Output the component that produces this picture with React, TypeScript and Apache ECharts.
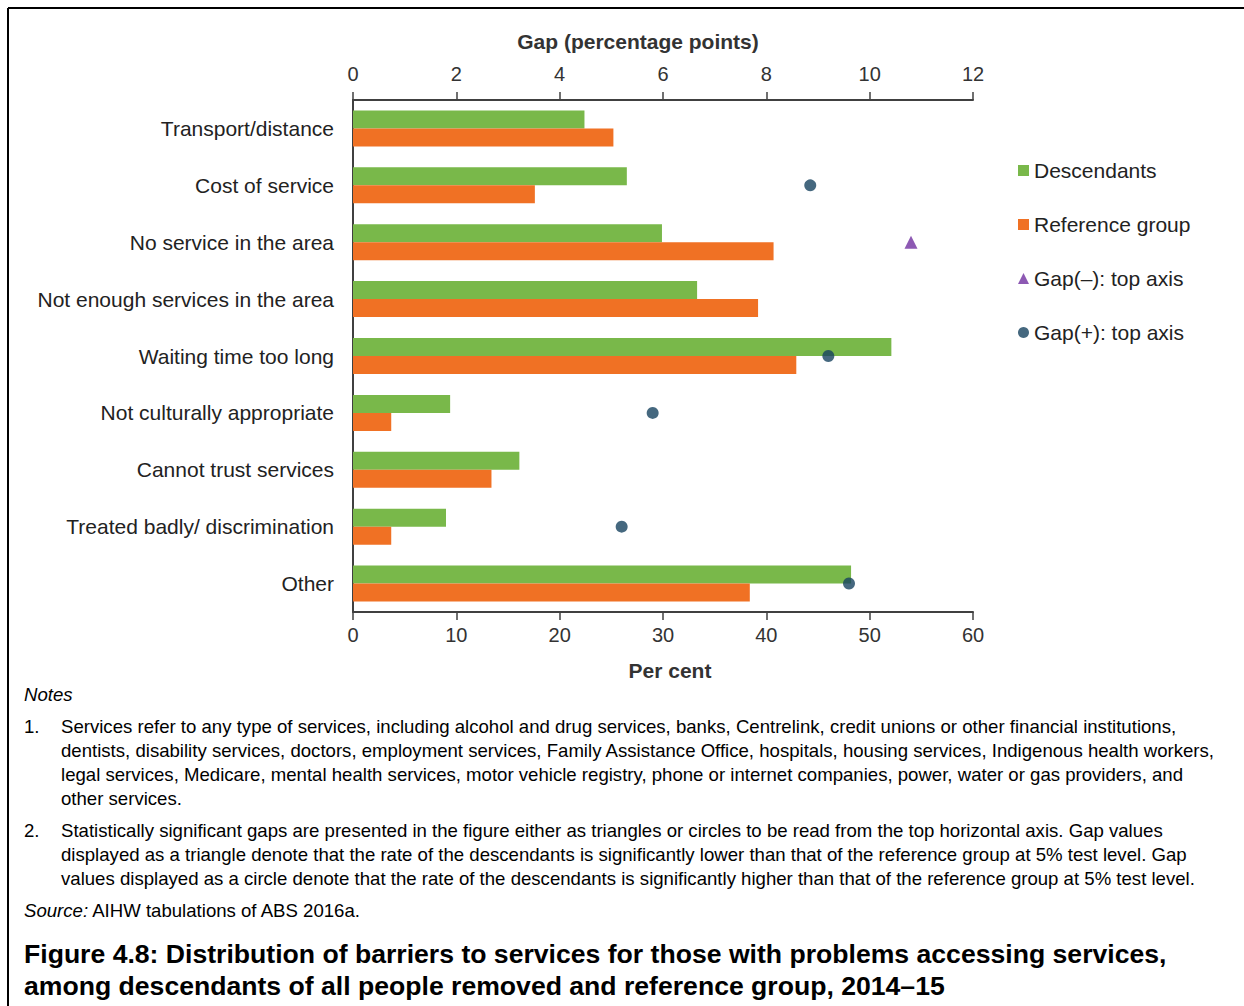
import React, { useEffect, useRef } from "react";
import * as echarts from "echarts";

const categories = [
  "Transport/distance",
  "Cost of service",
  "No service in the area",
  "Not enough services in the area",
  "Waiting time too long",
  "Not culturally appropriate",
  "Cannot trust services",
  "Treated badly/ discrimination",
  "Other",
];
const descendants = [22.4, 26.5, 29.9, 33.3, 52.1, 9.4, 16.1, 9.0, 48.2];
const referenceGroup = [25.2, 17.6, 40.7, 39.2, 42.9, 3.7, 13.4, 3.7, 38.4];
const gapNegative: (number | null)[] = [null, null, 10.8, null, null, null, null, null, null];
const gapPositive: (number | null)[] = [null, 8.85, null, null, 9.2, 5.8, null, 5.2, 9.6];
const bottomTicks = [0, 60, 10];
const topTicks = [0, 12, 2];
const bottomAxisTitle = "Per cent";
const topAxisTitle = "Gap (percentage points)";

const notes1 = [
  "Services refer to any type of services, including alcohol and drug services, banks, Centrelink, credit unions or other financial institutions,",
  "dentists, disability services, doctors, employment services, Family Assistance Office, hospitals, housing services, Indigenous health workers,",
  "legal services, Medicare, mental health services, motor vehicle registry, phone or internet companies, power, water or gas providers, and",
  "other services.",
];
const notes2 = [
  "Statistically significant gaps are presented in the figure either as triangles or circles to be read from the top horizontal axis. Gap values",
  "displayed as a triangle denote that the rate of the descendants is significantly lower than that of the reference group at 5% test level. Gap",
  "values displayed as a circle denote that the rate of the descendants is significantly higher than that of the reference group at 5% test level.",
];
const titleLines = [
  "Figure 4.8: Distribution of barriers to services for those with problems accessing services,",
  "among descendants of all people removed and reference group, 2014\u201315",
];

const SANS = "'Liberation Sans', Arial, sans-serif";

export default function App() {
  const ref = useRef<HTMLDivElement>(null);
  useEffect(() => {
    if (!ref.current) return;
    const chart = echarts.init(ref.current, undefined, { renderer: "svg" });
    const toPoints = (arr: (number | null)[]) =>
      arr.map((v, i) => (v == null ? ["-", i] : [v, i]));

    const noteStyle = { fontFamily: SANS, fontSize: 18.6, fill: "#000" };
    const graphic: any[] = [
      { type: "line", shape: { x1: 8, y1: 8, x2: 1244, y2: 8 }, style: { stroke: "#000", lineWidth: 2 } },
      { type: "line", shape: { x1: 8, y1: 8, x2: 8, y2: 1006 }, style: { stroke: "#000", lineWidth: 2 } },
      {
        type: "text", x: 638, y: 41,
        style: { text: topAxisTitle, fontFamily: SANS, fontSize: 21, fontWeight: "bold", fill: "#333", textAlign: "center", textVerticalAlign: "middle" },
      },
      {
        type: "text", x: 670, y: 670,
        style: { text: bottomAxisTitle, fontFamily: SANS, fontSize: 21, fontWeight: "bold", fill: "#333", textAlign: "center", textVerticalAlign: "middle" },
      },
      { type: "text", x: 24, y: 694, style: { ...noteStyle, text: "Notes", fontStyle: "italic", textVerticalAlign: "middle" } },
      { type: "text", x: 24, y: 726, style: { ...noteStyle, text: "1.", textVerticalAlign: "middle" } },
      { type: "text", x: 24, y: 830, style: { ...noteStyle, text: "2.", textVerticalAlign: "middle" } },
    ];
    notes1.forEach((t, i) =>
      graphic.push({ type: "text", x: 61, y: 726 + i * 24, style: { ...noteStyle, text: t, textVerticalAlign: "middle" } })
    );
    notes2.forEach((t, i) =>
      graphic.push({ type: "text", x: 61, y: 830 + i * 24, style: { ...noteStyle, text: t, textVerticalAlign: "middle" } })
    );
    graphic.push({
      type: "text",
      x: 24,
      y: 910,
      style: {
        ...noteStyle,
        text: "{i|Source:} AIHW tabulations of ABS 2016a.",
        textVerticalAlign: "middle",
        rich: { i: { fontStyle: "italic", fontFamily: SANS, fontSize: 18.6, fill: "#000" } },
      },
    });
    titleLines.forEach((t, i) =>
      graphic.push({
        type: "text",
        x: 24,
        y: 954 + i * 32,
        style: { text: t, fontFamily: SANS, fontSize: 26.6, fontWeight: "bold", fill: "#000", textVerticalAlign: "middle" },
      })
    );

    const axisCommon = {
      type: "value" as const,
      axisLine: { show: true, lineStyle: { color: "#404040", width: 2 } },
      axisTick: { show: true, inside: false, length: 8, lineStyle: { color: "#404040", width: 1.5 } },
      splitLine: { show: false },
      axisLabel: { fontFamily: SANS, fontSize: 20, color: "#333" },
    };

    chart.setOption({
      animation: false,
      backgroundColor: "#fff",
      grid: { left: 353, top: 100, width: 620, height: 512, containLabel: false },
      xAxis: [
        {
          ...axisCommon,
          position: "bottom",
          min: bottomTicks[0],
          max: bottomTicks[1],
          interval: bottomTicks[2],
          axisLabel: { ...axisCommon.axisLabel, margin: 13 },
        },
        {
          ...axisCommon,
          position: "top",
          min: topTicks[0],
          max: topTicks[1],
          interval: topTicks[2],
          axisLabel: { ...axisCommon.axisLabel, margin: 16 },
        },
      ],
      yAxis: {
        type: "category",
        inverse: true,
        data: categories,
        axisLine: { show: true, lineStyle: { color: "#404040", width: 2 } },
        axisTick: { show: false },
        axisLabel: { fontFamily: SANS, fontSize: 21, color: "#222", margin: 19 },
      },
      legend: {
        orient: "vertical",
        left: 1013,
        top: 155,
        itemGap: 33,
        itemWidth: 11,
        itemHeight: 11,
        textStyle: { fontFamily: SANS, fontSize: 21, color: "#222" },
        data: [
          { name: "Descendants", icon: "rect" },
          { name: "Reference group", icon: "rect" },
          { name: "Gap(\u2013): top axis", icon: "triangle" },
          { name: "Gap(+): top axis", icon: "circle" },
        ],
      },
      graphic,
      series: [
        {
          name: "Descendants",
          type: "bar",
          xAxisIndex: 0,
          data: descendants,
          barWidth: 18,
          barGap: "0%",
          itemStyle: { color: "#79B84A" },
        },
        {
          name: "Reference group",
          type: "bar",
          xAxisIndex: 0,
          data: referenceGroup,
          barWidth: 18,
          barGap: "0%",
          itemStyle: { color: "#F07124" },
        },
        {
          name: "Gap(\u2013): top axis",
          type: "scatter",
          xAxisIndex: 1,
          symbol: "triangle",
          symbolSize: 13,
          data: toPoints(gapNegative),
          itemStyle: { color: "#7030A0" },
          z: 5,
        },
        {
          name: "Gap(+): top axis",
          type: "scatter",
          xAxisIndex: 1,
          symbol: "circle",
          symbolSize: 12,
          data: toPoints(gapPositive),
          itemStyle: { color: "#17425F" },
          z: 5,
        },
      ],
    });
    return () => chart.dispose();
  }, []);
  return (
    <div style={{ position: "fixed", left: 0, top: 0, width: 1244, height: 1006, background: "#fff" }}>
      <div ref={ref} style={{ width: 1244, height: 1006 }} />
    </div>
  );
}
